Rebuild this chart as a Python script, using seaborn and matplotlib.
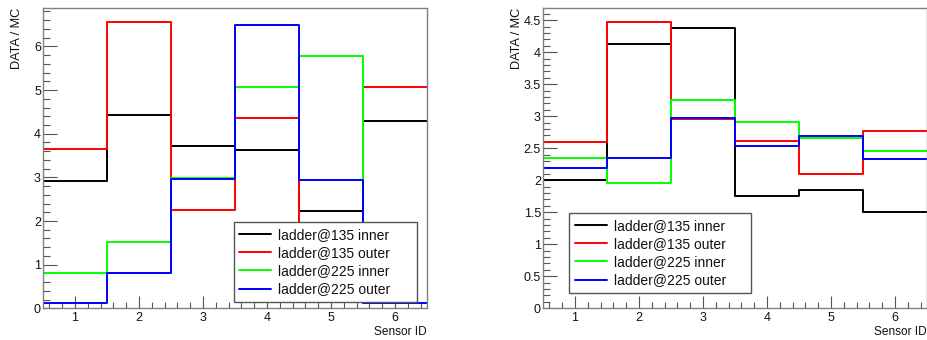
import numpy as np
import pandas as pd
import seaborn as sns
import matplotlib.pyplot as plt
from matplotlib.ticker import MultipleLocator, FormatStrFormatter, FuncFormatter

# --- data ---
sensor_ids = [1, 2, 3, 4, 5, 6]
series_labels = ["ladder@135 inner", "ladder@135 outer", "ladder@225 inner", "ladder@225 outer"]
series_colors = ["#000000", "#ff0000", "#00ff00", "#0000ff"]

# left panel
left_135_inner = [2.91, 4.42, 3.72, 3.62, 2.22, 4.30]
left_135_outer = [3.65, 6.55, 2.25, 4.35, 1.00, 5.06]
left_225_inner = [0.81, 1.51, 2.98, 5.06, 5.77, 0.11]
left_225_outer = [0.11, 0.82, 2.96, 6.48, 2.95, 0.11]

# right panel
right_135_inner = [2.00, 4.13, 4.37, 1.76, 1.85, 1.51]
right_135_outer = [2.59, 4.47, 2.95, 2.61, 2.10, 2.77]
right_225_inner = [2.35, 1.96, 3.25, 2.91, 2.66, 2.46]
right_225_outer = [2.19, 2.35, 2.97, 2.54, 2.69, 2.33]

left_series = [left_135_inner, left_135_outer, left_225_inner, left_225_outer]
right_series = [right_135_inner, right_135_outer, right_225_inner, right_225_outer]

sns.set_theme(style="white")
plt.rcParams["font.family"] = ["Liberation Sans", "DejaVu Sans"]

fig = plt.figure(figsize=(9.28, 3.4), dpi=100)
ax_l = fig.add_axes([43 / 928, 1 - 308.3 / 340, 384 / 928, 300.3 / 340])
ax_r = fig.add_axes([543 / 928, 1 - 308.3 / 340, 384 / 928, 300.3 / 340])

# bin edges for the sensor histogram (bins centred on the ids)
edges = np.append(np.array(sensor_ids) - 0.5, sensor_ids[-1] + 0.5)


def draw_panel(ax, series, ymax, ymajor, yminor, yfmt, legend_box):
    for vals, lab, col in zip(series, series_labels, series_colors):
        df = pd.DataFrame({"edge": edges, "ratio": np.append(vals, vals[-1])})
        sns.lineplot(data=df, x="edge", y="ratio", drawstyle="steps-post",
                     estimator=None, color=col, linewidth=1.4, label=lab, ax=ax)

    ax.set_xlim(0.5, 6.5)
    ax.set_ylim(0, ymax)
    ax.xaxis.set_major_locator(MultipleLocator(1))
    ax.xaxis.set_minor_locator(MultipleLocator(0.2))
    ax.yaxis.set_major_locator(MultipleLocator(ymajor))
    ax.yaxis.set_minor_locator(MultipleLocator(yminor))
    ax.yaxis.set_major_formatter(yfmt)
    ax.xaxis.set_major_formatter(FormatStrFormatter("%d"))

    ax.tick_params(which="both", direction="in", colors="#555555",
                   labelcolor="#111111", labelsize=9, width=0.8)
    ax.tick_params(axis="y", which="major", length=10, pad=1.5, left=True)
    ax.tick_params(axis="y", which="minor", length=5, left=True)
    ax.tick_params(axis="x", which="major", length=9, pad=2.5, bottom=True)
    ax.tick_params(axis="x", which="minor", length=4.5, bottom=True)
    for sp in ax.spines.values():
        sp.set_color("#808080")
        sp.set_linewidth(1)

    ax.set_ylabel("DATA / MC", loc="top", fontsize=9.2, color="#111111")
    ax.yaxis.set_label_coords(-0.052, 1)
    ax.set_xlabel("Sensor ID", loc="right", fontsize=8.6, color="#111111")
    ax.xaxis.set_label_coords(1, -0.058)

    leg = ax.legend(loc="lower left", bbox_to_anchor=legend_box, mode="expand",
                    fontsize=10, frameon=True, fancybox=False, edgecolor="#555555",
                    framealpha=1, handlelength=2.3, handletextpad=0.5,
                    labelspacing=0.3, borderpad=0.4, borderaxespad=0)
    leg.get_frame().set_linewidth(1)
    for t in leg.get_texts():
        t.set_color("#111111")


draw_panel(ax_l, left_series, 6.88, 1, 0.2, FormatStrFormatter("%d"),
           (0.497, 0.021, 0.477, 0.263))
draw_panel(ax_r, right_series, 4.69, 0.5, 0.1, FuncFormatter(lambda v, p: f"{v:g}"),
           (0.068, 0.051, 0.474, 0.266))

fig.savefig("out.png", dpi=100)
